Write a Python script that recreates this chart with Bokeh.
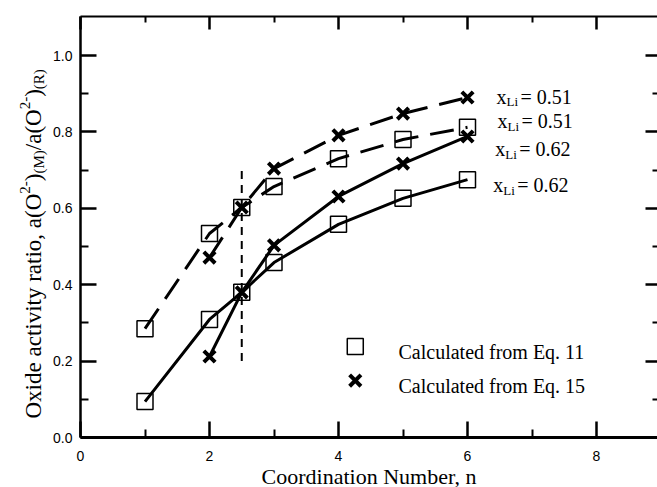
from bokeh.plotting import figure
from bokeh.models import (LinearAxis, Range1d, Label, FixedTicker, PrintfTickFormatter,
                          CustomJSTickFormatter)
from bokeh.embed import file_html
from bokeh.resources import INLINE

# ---------------- data ----------------
n_sq = [1, 2, 2.5, 3, 4, 5, 6]                      # Eq. 11 (squares)
sq_051 = [0.285, 0.534, 0.602, 0.657, 0.730, 0.780, 0.812]
sq_062 = [0.094, 0.309, 0.380, 0.458, 0.558, 0.626, 0.675]
n_x = [2, 2.5, 3, 4, 5, 6]                          # Eq. 15 (crosses)
x_051 = [0.471, 0.602, 0.704, 0.791, 0.848, 0.890]
x_062 = [0.212, 0.380, 0.503, 0.631, 0.717, 0.788]
n_crit = [2.5]
crit_lo = [0.20]
crit_hi = [0.70]
x_ticks = [0, 2, 4, 6, 8]
x_minor = [1, 3, 5, 7]
y_ticks = [0.0, 0.2, 0.4, 0.6, 0.8, 1.0]
y_minor = [0.1, 0.3, 0.5, 0.7, 0.9]
xli_values = ["0.51", "0.51", "0.62", "0.62"]
legend_texts = ["Calculated from Eq. 11", "Calculated from Eq. 15"]
x_title = "Coordination Number, n"

# ---------------- layout constants ----------------
X_MAX, Y_MAX = 8.97, 1.102          # extent of the plot box
PX_X, PX_Y = 64.5, 382.0            # pixels per unit
LEFT, BOTTOM = 80, 437              # pixel position of the origin
Wc, Hc = 657, 487
xli_pos = [(6.45, 0.892), (6.465, 0.828), (6.43, 0.754), (6.40, 0.660)]
leg_marker_n = [4.26]
leg_sq_y = [0.238]
leg_x_y = [0.149]
leg_text_n = 4.93
leg_text_y = [0.225, 0.134]

SERIF = "Liberation Serif"
SANS = "Liberation Sans"

x0 = -LEFT / PX_X
y0 = -(Hc - BOTTOM) / PX_Y
p = figure(width=Wc, height=Hc,
           x_range=Range1d(x0, x0 + Wc / PX_X), y_range=Range1d(y0, y0 + Hc / PX_Y),
           output_backend="svg", toolbar_location=None, min_border=0,
           x_axis_location=None, y_axis_location=None)
p.grid.visible = False
p.outline_line_color = None

blank = CustomJSTickFormatter(code="return ''")


def make_axis(ticks, minor, loc, bounds, major, minor_len, lw, labels=True, fmt=None):
    ax = LinearAxis(ticker=FixedTicker(ticks=ticks, minor_ticks=minor), fixed_location=loc,
                    bounds=bounds)
    ax.major_tick_in = major
    ax.major_tick_out = 0
    ax.minor_tick_in = minor_len
    ax.minor_tick_out = 0
    ax.major_tick_line_width = 2.5
    ax.minor_tick_line_width = 2
    ax.major_tick_line_color = "black"
    ax.minor_tick_line_color = "black"
    ax.axis_line_width = lw
    ax.axis_line_color = "black"
    if labels:
        ax.major_label_text_font = SANS
        ax.major_label_text_font_size = "14px"
        ax.major_label_text_color = "black"
        if fmt is not None:
            ax.formatter = fmt
    else:
        ax.formatter = blank
        ax.major_label_standoff = 0
    return ax


bottom = make_axis(x_ticks, x_minor, 0, (0, X_MAX), 16, 8, 3)
bottom.major_label_standoff = 13
bottom.axis_label = x_title
bottom.axis_label_text_font = SERIF
bottom.axis_label_text_font_size = "22px"
bottom.axis_label_text_font_style = "normal"
bottom.axis_label_text_color = "black"
bottom.axis_label_standoff = 0
p.add_layout(bottom, "below")

left = make_axis(y_ticks, y_minor, 0, (0, Y_MAX), 16, 8, 2.5, fmt=PrintfTickFormatter(format="%.1f"))
left.major_label_standoff = 8
p.add_layout(left, "left")

top = make_axis(x_ticks, x_minor, Y_MAX, (0, X_MAX), 13, 6, 2, labels=False)
p.add_layout(top, "above")
right = make_axis(y_ticks, y_minor, X_MAX, (0, Y_MAX), 14, 7, 2, labels=False)
right.axis_line_color = None
p.add_layout(right, "right")

# ---------------- curves ----------------
p.line(n_sq, sq_051, line_color="black", line_width=3, line_dash="24 12", line_join="round")
p.line(n_x, x_051, line_color="black", line_width=3, line_dash="24 12", line_join="round")
p.line(n_sq, sq_062, line_color="black", line_width=3, line_join="round")
p.line(n_x, x_062, line_color="black", line_width=3, line_join="round")
p.segment(x0=n_crit, y0=crit_lo, x1=n_crit, y1=crit_hi, line_color="black", line_width=2,
          line_dash="8 6")

# ---------------- markers ----------------
for ys in (sq_051, sq_062):
    p.scatter(n_sq, ys, marker="square", size=16, fill_color=None, line_color="black", line_width=1.5)
for ys in (x_051, x_062):
    p.scatter(n_x, ys, marker="x", size=16, line_color="black", line_width=4)

# legend
p.scatter(leg_marker_n, leg_sq_y, marker="square", size=16, fill_color=None, line_color="black",
          line_width=1.5)
p.scatter(leg_marker_n, leg_x_y, marker="x", size=16, line_color="black", line_width=4)
for t, yy in zip(legend_texts, leg_text_y):
    p.add_layout(Label(x=leg_text_n, y=yy, text=t, text_font=SERIF, text_font_size="20px",
                       text_color="black", text_baseline="alphabetic", text_align="left"))

# x_Li labels
for (lx, ly), v in zip(xli_pos, xli_values):
    p.add_layout(Label(x=lx, y=ly, text="x", text_font=SERIF, text_font_size="20px",
                       text_baseline="alphabetic", text_align="left", text_color="black"))
    p.add_layout(Label(x=lx, y=ly, x_offset=10, y_offset=-5, text="Li", text_font=SERIF,
                       text_font_size="13px", text_baseline="alphabetic", text_align="left",
                       text_color="black"))
    p.add_layout(Label(x=lx, y=ly, x_offset=24, text="= " + v, text_font=SERIF,
                       text_font_size="20px", text_baseline="alphabetic", text_align="left",
                       text_color="black"))

# ---------------- rotated y title, composed of pieces ----------------
W = {"O": 722, "x": 500, "i": 278, "d": 500, "e": 444, " ": 250, "a": 444, "c": 444, "t": 278,
     "v": 500, "y": 500, "r": 333, "o": 500, ",": 250, "(": 333, ")": 333, "/": 278, "2": 500,
     "-": 333, "M": 889, "R": 667}


def tw(s, size):
    return sum(W.get(ch, 500) for ch in s) * size / 1000.0


F, f = 23, 15
pieces = [("Oxide activity ratio, a(O", F, 0), ("2-", f, 9), (")", F, 0), ("(M)", f, -5),
          ("/a(O", F, 0), ("2-", f, 9), (")", F, 0), ("(R)", f, -5)]
base_px = 33 - LEFT
pos = BOTTOM - 418
for s, sz, shift in pieces:
    p.add_layout(Label(x=0, y=0, x_offset=base_px - shift, y_offset=pos, text=s, angle=90,
                       angle_units="deg", text_font=SERIF, text_font_size=f"{sz}px",
                       text_baseline="alphabetic", text_align="left", text_color="black"))
    pos += tw(s, sz)

open("out.html", "w").write(file_html(p, INLINE))
